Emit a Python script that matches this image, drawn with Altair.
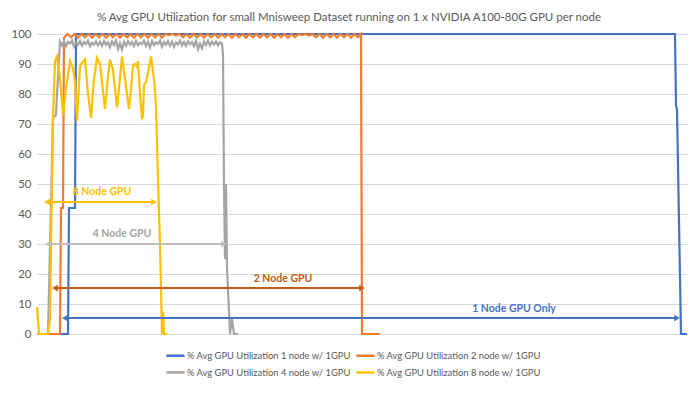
import altair as alt
import pandas as pd

# ---------------- data (x = sample index, y = % GPU utilization) ----------------
names = [
    "% Avg GPU Utilization 1 node w/ 1GPU",
    "% Avg GPU Utilization 2 node w/ 1GPU",
    "% Avg GPU Utilization 4 node w/ 1GPU",
    "% Avg GPU Utilization 8 node w/ 1GPU",
]
colors = ["#4472C4", "#ED7D31", "#A5A5A5", "#FFC000"]

n1_x = [0, 31, 32, 38, 39, 638, 639, 640, 644, 650]
n1_y = [0, 0, 42, 42, 100, 100, 76, 75, 0, 0]

n2_x = [0, 23, 24, 26, 27,
        30.5, 34, 37.5, 41, 44.5, 48, 51.5, 55, 58.5, 62, 65.5, 69, 72.5, 76, 79.5,
        83, 86.5, 90, 93.5, 97, 100.5, 104, 107.5, 111, 114.5, 118, 121.5, 125, 128.5,
        132, 135.5, 139, 142.5, 146, 149.5, 153, 156.5, 160, 163.5, 167, 170.5, 174,
        177.5, 181, 184.5, 188, 191.5, 195, 198.5, 202, 205.5, 209, 212.5, 216, 219.5,
        223, 226.5, 230, 233.5, 237, 240.5, 244, 247.5, 251, 254.5, 258, 261.5, 265,
        268.5, 272, 275.5, 279, 282.5, 286, 289.5, 293, 296.5, 300, 303.5, 307, 310.5,
        314, 317.5, 321, 324, 325, 343]
n2_y = [0, 0, 42, 42, 98.8,
        100, 98.9, 100, 98.8, 100, 98.9, 100, 98.8, 100, 98.9, 100, 98.8, 100, 98.9, 100,
        98.8, 100, 98.9, 100, 98.8, 100, 98.9, 100, 98.8, 100, 98.9, 100, 98.8, 100,
        99.6, 100, 99.5, 100, 98.9, 100, 98.8, 100, 98.9, 100, 98.8, 100, 98.9,
        100, 98.8, 100, 98.9, 100, 98.8, 100, 98.9, 100, 98.8, 100, 98.9, 100,
        98.8, 100, 98.9, 100, 98.8, 100, 98.9, 100, 98.8, 100, 98.9, 100, 99.6,
        100, 99.5, 100, 98.9, 100, 98.8, 100, 98.9, 100, 98.8, 100, 98.9, 100,
        98.8, 100, 98.9, 100, 0, 0]

n4_x = [0, 11, 16, 19, 20,
        23, 25, 27, 29, 31, 33, 35, 37, 39, 41, 43, 45, 47, 49, 51, 53, 55, 57, 59,
        61, 63, 65, 67, 69, 71, 73, 75, 77, 79, 81, 83, 85, 87, 89, 91, 93, 95, 97,
        99, 101, 103, 105, 107, 109, 111, 113, 115, 117, 119, 121, 123, 125, 127, 129,
        131, 133, 135, 137, 139, 141, 143, 145, 147, 149, 151, 153, 155, 157, 159, 161,
        163, 165, 167, 169, 171, 173, 175, 177, 179, 181, 183, 185,
        186, 187, 188, 189, 190, 193, 195, 197, 201]
n4_y = [0, 0, 72, 73, 80,
        97.5, 96.2, 97.6, 96.0, 97.4, 96.8, 97.8, 95.8, 97.2, 96.4, 97.7, 96.1, 97.3,
        96.6, 97.8, 95.9, 97.1, 96.5, 97.6, 96.2, 97.4, 96.0, 97.7, 96.4, 97.2,
        95.6, 97.5, 96.3, 97.8, 95.0, 96.9, 94.8, 97.4, 96.1, 97.6, 96.5, 97.3,
        95.9, 97.7, 96.2, 97.1, 96.6, 97.8, 96.0, 97.4, 95.5, 97.6, 96.3, 97.2,
        96.7, 97.8, 95.8, 97.3, 96.4, 97.6, 96.1, 97.5, 95.7, 97.2, 96.5, 97.8,
        96.2, 97.4, 96.0, 97.6, 96.6, 97.3, 95.9, 97.7, 94.9, 96.8, 95.2, 97.5,
        96.3, 97.8, 96.1, 97.4, 96.5, 97.6, 96.2, 97.3, 96.8,
        93, 50, 25, 50, 22, 0, 5, 0, 0]

n8_x = [0, 2, 11, 13, 15, 16, 18, 20, 23, 26, 29, 33, 36, 38, 40, 43, 48, 51, 54,
        57, 60, 63, 66, 68, 71, 73, 76, 80, 82, 85, 88, 92, 94, 96, 98, 100, 101,
        103, 105, 106, 107, 109, 111, 114, 117, 119, 121, 123, 125, 126, 127, 130]
n8_y = [9, 0, 0, 5, 51, 72, 91, 92.5, 85, 73, 82, 91, 88.5, 84, 71, 89.5, 91.5, 80,
        72, 85, 92, 90, 81, 75, 86, 91.5, 88, 75.5, 82, 92.5, 85, 75, 82, 89.5, 90,
        89, 91, 80, 72, 72.5, 83, 84, 87, 92.5, 85, 76, 51, 30, 0, 7.5, 0, 0]

arrow_label = ["8 Node GPU", "4 Node GPU", "2 Node GPU", "1 Node GPU Only"]
arrow_x1 = [10, 11, 18, 28]
arrow_x2 = [117, 187, 325, 640]
arrow_y = [44, 30, 15.3, 5.3]
arrow_color = ["#FFC000", "#BFBFBF", "#C55A11", "#4472C4"]
label_x = [65, 85, 246, 477]
label_y = [47.3, 33.5, 18.3, 8.2]
label_color = ["#FFC000", "#A5A5A5", "#C55A11", "#4472C4"]

# legend entries in row-major order as shown (1, 2 / 4, 8)
legend_order = [names[0], names[2], names[1], names[3]]

# ---------------- tables ----------------
rows = []
for name, xs, ys in zip(names, [n1_x, n2_x, n4_x, n8_x], [n1_y, n2_y, n4_y, n8_y]):
    for i, (xv, yv) in enumerate(zip(xs, ys)):
        rows.append({"series": name, "x": xv, "y": yv, "i": i})
lines_df = pd.DataFrame(rows)

arrows_df = pd.DataFrame({"x1": arrow_x1, "x2": arrow_x2, "y": arrow_y, "c": arrow_color})
heads_df = pd.DataFrame({
    "x": arrow_x1 + arrow_x2,
    "y": arrow_y + arrow_y,
    "shape": ["triangle-left"] * 4 + ["triangle-right"] * 4,
    "c": arrow_color + arrow_color,
})
labels_df = pd.DataFrame({"x": label_x, "y": label_y, "t": arrow_label, "c": label_color})

xscale = alt.Scale(domain=[0, 650], nice=False, zero=False)
yscale = alt.Scale(domain=[0, 100], nice=False)


def yaxis():
    return alt.Axis(tickCount=11, domain=False, ticks=False,
                    labelOverlap=False, gridColor="#D9D9D9", gridWidth=1,
                    labelColor="#595959", labelFont="Lato", labelFontSize=11.5,
                    labelPadding=6, title=None)


lines = alt.Chart(lines_df).mark_line(strokeWidth=2.2).encode(
    x=alt.X("x:Q", scale=xscale, axis=None),
    y=alt.Y("y:Q", scale=yscale, title=None, axis=yaxis()),
    color=alt.Color("series:N", scale=alt.Scale(domain=names, range=colors),
                    legend=alt.Legend(title=None, orient="none", legendX=128, legendY=311,
                                      values=legend_order,
                                      columns=2, symbolType="stroke", symbolStrokeWidth=2.5,
                                      symbolSize=330, labelFont="Lato", labelFontSize=9.4,
                                      labelColor="#595959", labelLimit=400, columnPadding=0,
                                      rowPadding=1, labelOffset=1)),
    order="i:Q",
)

arrows = alt.Chart(arrows_df).mark_rule(strokeWidth=2).encode(
    x=alt.X("x1:Q", scale=xscale, axis=None), x2="x2:Q",
    y=alt.Y("y:Q", scale=yscale, title=None, axis=yaxis()),
    color=alt.Color("c:N", scale=None),
)

heads = alt.Chart(heads_df).mark_point(filled=True, size=45, opacity=1).encode(
    x=alt.X("x:Q", scale=xscale, axis=None),
    y=alt.Y("y:Q", scale=yscale, title=None, axis=yaxis()),
    shape=alt.Shape("shape:N", scale=None),
    color=alt.Color("c:N", scale=None),
)

labels = alt.Chart(labels_df).mark_text(font="Lato", fontSize=10.5, fontWeight="bold").encode(
    x=alt.X("x:Q", scale=xscale, axis=None),
    y=alt.Y("y:Q", scale=yscale, title=None, axis=yaxis()),
    text="t:N",
    color=alt.Color("c:N", scale=None),
)

chart = alt.layer(lines, arrows, heads, labels).properties(
    width=650, height=300,
    padding={"left": 29, "top": 26, "right": 2, "bottom": 53},
    autosize=alt.AutoSizeParams(type="none"),
    title=alt.TitleParams(
        "% Avg GPU Utilization  for small Mnisweep Dataset running on 1 x NVIDIA A100-80G GPU per node",
        font="Lato", fontSize=11.5, fontWeight="normal", color="#595959",
        anchor="middle", dx=-13, offset=5),
).configure_view(stroke=None)

chart.save("out.html", embed_options={"renderer": "svg", "actions": False})
